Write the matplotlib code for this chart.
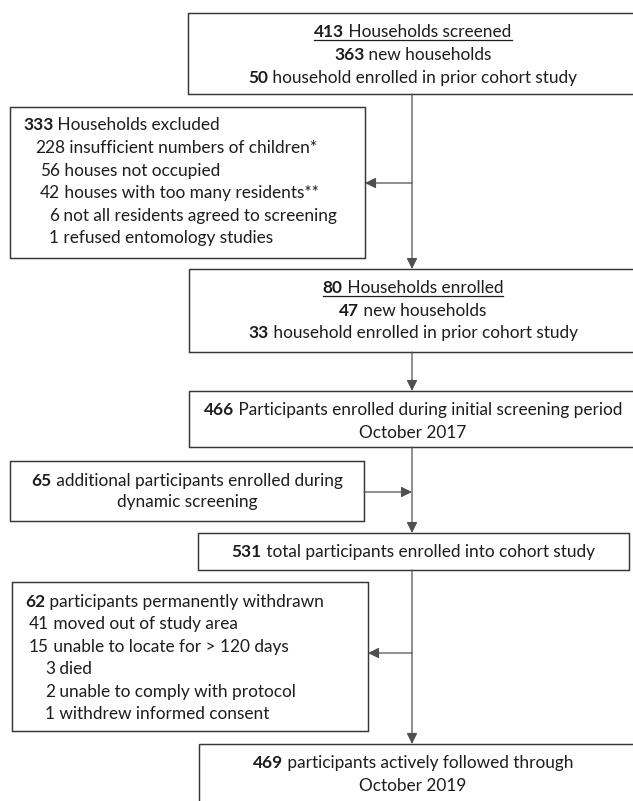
import matplotlib
matplotlib.use("Agg")
import matplotlib.pyplot as plt
from matplotlib.patches import Rectangle

# flow counts
screened = [413, 363, 50]
screened_labels = ["Households screened", "new households", "household enrolled in prior cohort study"]
excluded = [333, 228, 56, 42, 6, 1]
excluded_labels = ["Households excluded", "insufficient numbers of children*", "houses not occupied",
                   "houses with too many residents**", "not all residents agreed to screening",
                   "refused entomology studies"]
enrolled = [80, 47, 33]
enrolled_labels = ["Households enrolled", "new households", "household enrolled in prior cohort study"]
initial = 466
initial_label = ["Participants enrolled during initial screening period", "October 2017"]
additional = 65
additional_label = ["additional participants enrolled during", "dynamic screening"]
total = 531
total_label = "total participants enrolled into cohort study"
withdrawn = [62, 41, 15, 3, 2, 1]
withdrawn_labels = ["participants permanently withdrawn", "moved out of study area",
                    "unable to locate for > 120 days", "died", "unable to comply with protocol",
                    "withdrew informed consent"]
followed = 469
followed_label = ["participants actively followed through", "October 2019"]

W, H = 633, 801
FONT = "Lato"
TXT = "#1e1c1d"
EDGE = "#363636"
LINE = "#505050"

fig = plt.figure(figsize=(W / 100, H / 100), dpi=100)
ax = fig.add_axes([0, 0, 1, 1])
ax.set_xlim(0, W)
ax.set_ylim(H, 0)
ax.axis("off")
renderer = fig.canvas.get_renderer()


def place(parts, size, y=0):
    texts = []
    cur = 0
    for s, b in parts:
        t = ax.text(cur, y, s, fontsize=size, family=FONT, fontweight="bold" if b else "normal",
                    va="center", ha="left", color=TXT)
        texts.append((t, cur))
        cur += t.get_window_extent(renderer).width
    return texts, cur


def draw_line(x, y, parts, size, align="center", underline=False):
    texts, width = place(parts, size, y)
    x0 = x - width / 2 if align == "center" else x
    for t, off in texts:
        t.set_x(x0 + off)
    if underline:
        ax.plot([x0, x0 + width], [y + 7.5, y + 7.5], color=TXT, lw=0.9)


# calibrate font size on the widest line (about 420 px wide in the reference)
tmp, w10 = place([(str(initial), True), (" " + initial_label[0], False)], 10)
for t, _ in tmp:
    t.remove()
FS = 10 * 420 / w10


def box(x0, y0, x1, y1):
    ax.add_patch(Rectangle((x0, y0), x1 - x0, y1 - y0, fill=False, ec=EDGE, lw=1.05))


def arrow(p0, p1):
    ax.annotate("", xy=p1, xytext=p0,
                arrowprops=dict(arrowstyle="-|>,head_length=0.65,head_width=0.32",
                                mutation_scale=10, color=LINE, lw=0.9,
                                shrinkA=0, shrinkB=0))


CX = 412   # main column
TC = 413   # text centre in right column

# boxes
box(188, 13, 640, 94)
box(10, 107, 365, 258)
box(189, 269, 640, 352)
box(189, 391, 640, 447)
box(10, 461, 364, 521)
box(198, 533, 629, 570)
box(12, 582, 368, 731)
box(199, 744, 640, 810)

# connectors
arrow((CX, 94), (CX, 269))
arrow((CX, 183), (365, 183))
arrow((CX, 352), (CX, 391))
arrow((CX, 447), (CX, 533))
arrow((364, 492), (CX, 492))
arrow((CX, 570), (CX, 744))
arrow((CX, 653), (368, 653))

# box 1
ys = [32, 55, 78]
for i, (n, lab) in enumerate(zip(screened, screened_labels)):
    draw_line(TC, ys[i], [(str(n), True), (" " + lab, False)], FS, underline=(i == 0))

# excluded
ys = [125, 148, 171, 193, 216, 238]
xs = [23, 35, 40, 40, 49, 49]
for i, (n, lab) in enumerate(zip(excluded, excluded_labels)):
    draw_line(xs[i], ys[i], [(str(n), i == 0), (" " + lab, False)], FS, align="left")

# enrolled households
ys = [288, 311, 333]
for i, (n, lab) in enumerate(zip(enrolled, enrolled_labels)):
    draw_line(TC, ys[i], [(str(n), True), (" " + lab, False)], FS, underline=(i == 0))

# initial participants
draw_line(TC, 410, [(str(initial), True), (" " + initial_label[0], False)], FS)
draw_line(TC, 433, [(initial_label[1], False)], FS)

# additional
draw_line(187, 481, [(str(additional), True), (" " + additional_label[0], False)], FS)
draw_line(187, 502, [(additional_label[1], False)], FS)

# total
draw_line(TC, 552, [(str(total), True), (" " + total_label, False)], FS)

# withdrawn
ys = [602, 624, 647, 669, 692, 714]
xs = [25, 29, 29, 45, 45, 45]
for i, (n, lab) in enumerate(zip(withdrawn, withdrawn_labels)):
    draw_line(xs[i], ys[i], [(str(n), i == 0), (" " + lab, False)], FS, align="left")

# followed
draw_line(TC, 763, [(str(followed), True), (" " + followed_label[0], False)], FS)
draw_line(TC, 786, [(followed_label[1], False)], FS)

fig.savefig("out.png", dpi=100, facecolor="white")
